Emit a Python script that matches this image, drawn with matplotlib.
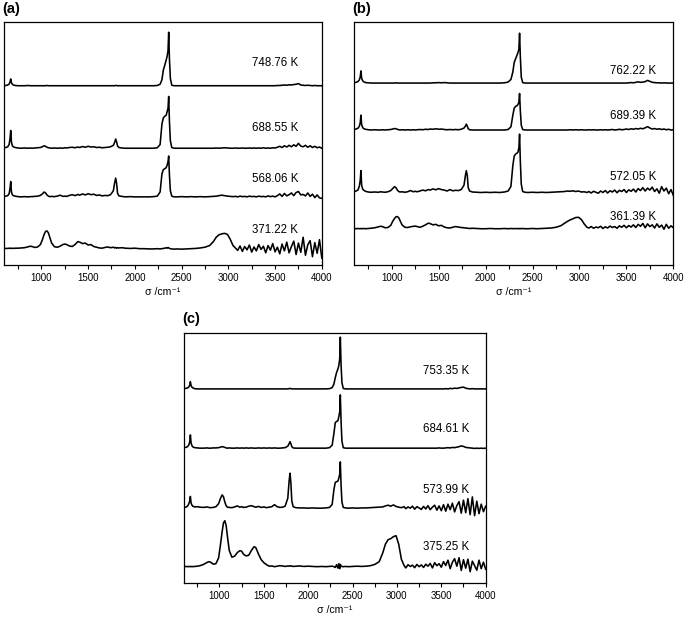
import numpy as np
import matplotlib
matplotlib.use('Agg')
import matplotlib.pyplot as plt
from matplotlib.ticker import MultipleLocator

plt.rcParams['font.family'] = ['Liberation Sans', 'DejaVu Sans']

# wavenumber grid (cm^-1), denser around the bands
sigma = [600, 620, 640, 655, 665, 672, 680, 690, 700, 720,
         750, 780, 820, 860, 880, 900, 930, 960, 990, 1010,
         1030, 1045, 1060, 1075, 1090, 1110, 1140, 1170, 1200, 1230,
         1250, 1270, 1300, 1330, 1360, 1390, 1410, 1440, 1470, 1500,
         1530, 1560, 1590, 1620, 1650, 1680, 1710, 1740, 1770, 1785,
         1795, 1805, 1815, 1830, 1860, 1900, 1950, 2000, 2050, 2100,
         2150, 2200, 2240, 2270, 2290, 2305, 2320, 2335, 2345, 2355,
         2362, 2370, 2380, 2395, 2420, 2450, 2500, 2550, 2600, 2650,
         2700, 2750, 2800, 2840, 2870, 2900, 2930, 2960, 2990, 3020,
         3050, 3080, 3100, 3125, 3150, 3175, 3200, 3225, 3250, 3275,
         3300, 3325, 3350, 3375, 3400, 3425, 3450, 3475, 3500, 3525,
         3550, 3575, 3600, 3625, 3650, 3675, 3700, 3725, 3750, 3775,
         3800, 3825, 3850, 3875, 3900, 3925, 3950, 3975, 4000]

# ---- panel (a): intensity above each trace's own baseline ----
a_748 = [0.0, 0.1, 0.3, 0.7, 1.5, 2.8, 1.2, 0.6, 0.3, 0.1,
         0.0, 0.0, 0.0, 0.1, 0.0, 0.0, 0.0, 0.0, 0.0, 0.0,
         0.0, 0.0, 0.1, 0.0, 0.0, 0.0, 0.0, 0.0, 0.0, 0.0,
         0.0, 0.0, 0.0, 0.0, 0.0, 0.0, 0.0, 0.0, 0.0, 0.0,
         0.0, 0.0, 0.0, 0.0, 0.0, 0.0, 0.0, 0.0, 0.0, 0.0,
         0.1, 0.1, 0.0, 0.0, 0.0, 0.0, 0.0, 0.0, 0.0, 0.0,
         0.0, 0.0, 0.1, 0.6, 2.5, 6.5, 8.4, 10.5, 12.0, 14.5,
         22.0, 11.0, 3.0, 0.2, 0.0, 0.0, 0.0, 0.0, 0.0, 0.0,
         0.0, 0.0, 0.0, 0.0, 0.0, 0.0, 0.0, 0.0, 0.0, 0.0,
         0.0, 0.0, 0.0, 0.0, 0.0, 0.0, 0.0, 0.0, 0.0, 0.0,
         0.0, 0.0, 0.0, 0.0, 0.0, 0.0, 0.0, 0.0, 0.0, 0.1,
         0.1, 0.2, 0.3, 0.2, 0.4, 0.3, 0.5, 0.6, 0.9, 0.3,
         0.2, 0.1, 0.2, 0.1, 0.0, 0.1, 0.0, 0.0, 0.0]
a_688 = [0.2, 0.3, 0.6, 1.5, 4.0, 7.3, 2.5, 1.0, 0.6, 0.3,
         0.1, 0.0, 0.1, 0.0, 0.1, 0.0, 0.1, 0.2, 0.3, 0.6,
         1.0, 0.8, 0.4, 0.2, 0.1, 0.0, 0.1, 0.0, 0.1, 0.0,
         0.2, 0.1, 0.3, 0.4, 0.2, 0.5, 0.3, 0.7, 0.4, 0.8,
         0.5, 0.6, 0.3, 0.4, 0.2, 0.3, 0.4, 0.6, 1.2, 2.5,
         3.8, 2.6, 0.9, 0.3, 0.1, 0.0, 0.0, 0.0, 0.0, 0.0,
         0.0, 0.0, 0.2, 1.5, 10.0, 12.5, 13.2, 13.5, 15.0, 16.5,
         21.3, 11.0, 3.0, 0.3, 0.0, 0.0, 0.0, 0.0, 0.0, 0.0,
         0.0, 0.0, 0.0, 0.0, 0.1, 0.0, 0.1, 0.2, 0.1, 0.0,
         0.0, 0.1, 0.0, 0.0, 0.1, 0.0, 0.0, 0.1, 0.0, 0.1,
         0.0, 0.1, 0.0, 0.2, 0.0, 0.1, 0.0, 0.2, 0.1, 0.4,
         0.8, 0.3, 1.0, 0.5, 1.2, 0.6, 1.4, 0.8, 2.0, 0.9,
         0.6, 1.2, 0.4, 1.0, 0.3, 0.8, 0.2, 0.5, 0.0]
a_568 = [0.2, 0.3, 0.5, 1.3, 3.5, 6.3, 2.0, 0.9, 0.5, 0.3,
         0.1, 0.0, 0.1, 0.0, 0.1, 0.1, 0.2, 0.3, 0.6, 1.2,
         2.0, 1.6, 0.8, 0.3, 0.1, 0.2, 0.1, 0.3, 0.7, 0.2,
         0.3, 0.2, 0.6, 0.9, 0.5, 1.0, 0.7, 1.2, 0.8, 1.3,
         0.9, 1.1, 0.6, 0.8, 0.4, 0.6, 0.5, 0.9, 2.5, 6.0,
         7.7, 5.5, 1.5, 0.4, 0.2, 0.0, 0.1, 0.0, 0.0, 0.0,
         0.0, 0.1, 0.3, 2.0, 9.5, 11.2, 11.6, 12.0, 13.0, 14.5,
         16.8, 9.0, 2.5, 0.3, 0.0, 0.0, 0.1, 0.0, 0.1, 0.0,
         0.1, 0.0, 0.1, 0.2, 0.3, 0.5, 0.7, 0.5, 0.3, 0.2,
         0.1, 0.2, 0.0, 0.3, 0.1, 0.2, 0.0, 0.3, 0.1, 0.2,
         0.0, 0.3, 0.1, 0.2, 0.0, 0.4, 0.1, 0.3, 0.0, 0.5,
         1.2, 0.2, 1.4, 0.4, 0.9, 1.6, 0.5, 1.8, 2.2, 0.8,
         1.0, 0.4, 1.6, 0.2, 1.1, -0.3, 0.8, -0.4, -0.6]
a_371 = [0.1, 0.0, 0.0, 0.1, 0.0, 0.1, 0.0, 0.1, 0.0, 0.1,
         0.1, 0.2, 0.3, 0.7, 0.9, 0.8, 0.4, 0.6, 1.6, 3.5,
         5.8, 7.0, 7.2, 6.4, 4.6, 2.2, 0.7, 0.5, 0.9, 1.6,
         1.8, 1.6, 1.0, 0.8, 1.6, 2.8, 2.6, 2.0, 2.2, 1.4,
         1.6, 0.8, 0.5, 0.2, 0.1, 0.4, 0.6, 0.3, 0.5, 0.2,
         0.4, 0.1, 0.3, 0.2, 0.3, 0.1, 0.0, 0.1, -0.1, -0.1,
         -0.2, -0.2, -0.1, -0.2, -0.1, 0.0, 0.1, 0.3, 0.1, 0.4,
         0.2, 0.0, -0.1, -0.2, -0.3, -0.2, -0.3, -0.2, -0.1, 0.0,
         0.2, 0.5, 1.2, 2.8, 4.6, 5.6, 6.0, 6.2, 5.8, 3.8,
         1.2, 0.0, -0.8, 1.0, -1.2, 0.8, -0.6, 1.4, -1.5, 0.6,
         -1.0, 1.6, -0.4, 0.9, -1.8, 1.2, -0.7, 2.0, -1.4, 0.5,
         -2.2, 1.8, -1.0, 2.6, -1.8, 0.8, 3.0, -2.5, 2.2, -1.6,
         4.6, -2.8, 1.5, 3.2, -3.4, 2.4, -2.0, 3.6, -4.0]

# ---- panel (b) ----
b_762 = [0.1, 0.3, 0.6, 1.3, 2.5, 5.0, 2.0, 1.0, 0.6, 0.2,
         0.1, 0.0, 0.0, 0.0, 0.0, 0.0, 0.0, 0.0, 0.0, 0.0,
         0.0, 0.1, 0.0, 0.0, 0.0, 0.0, 0.0, 0.0, 0.0, 0.0,
         0.0, 0.0, 0.0, 0.0, 0.0, 0.0, 0.0, 0.1, 0.1, 0.2,
         0.1, 0.2, 0.1, 0.0, 0.0, 0.0, 0.0, 0.0, 0.0, 0.0,
         0.0, 0.0, 0.0, 0.0, 0.0, 0.0, 0.0, 0.0, 0.0, 0.0,
         0.0, 0.1, 0.4, 1.5, 4.5, 8.5, 10.0, 11.5, 12.5, 14.0,
         20.5, 11.0, 2.5, 0.2, 0.0, 0.0, 0.0, 0.0, 0.0, 0.0,
         0.0, 0.0, 0.0, 0.0, 0.0, 0.0, 0.0, 0.0, 0.0, 0.0,
         0.0, 0.0, 0.0, 0.0, 0.0, 0.0, 0.0, 0.0, 0.0, 0.0,
         0.0, 0.0, 0.0, 0.0, 0.0, 0.0, 0.0, 0.0, 0.0, 0.1,
         0.2, 0.1, 0.3, 0.5, 0.3, 0.4, 0.6, 1.1, 0.7, 0.3,
         0.2, 0.1, 0.1, 0.0, 0.1, 0.0, 0.0, 0.0, 0.0]
b_689 = [0.2, 0.4, 0.7, 1.5, 3.0, 6.1, 2.2, 1.1, 0.6, 0.3,
         0.1, 0.0, 0.1, 0.0, 0.0, 0.1, 0.0, 0.1, 0.2, 0.4,
         0.6, 0.5, 0.3, 0.1, 0.0, 0.1, 0.0, 0.1, 0.0, 0.1,
         0.0, 0.1, 0.2, 0.1, 0.3, 0.2, 0.4, 0.3, 0.5, 0.3,
         0.4, 0.2, 0.1, 0.2, 0.1, 0.2, 0.1, 0.3, 0.8, 1.6,
         2.4, 1.6, 0.5, 0.1, 0.0, 0.0, 0.0, 0.0, 0.0, 0.0,
         0.0, 0.0, 0.2, 1.3, 6.0, 9.0, 9.7, 10.0, 10.5, 11.5,
         15.0, 8.0, 2.0, 0.2, 0.0, 0.0, 0.0, 0.0, 0.0, 0.0,
         0.0, 0.0, 0.0, 0.0, 0.0, 0.1, 0.0, 0.1, 0.0, 0.1,
         0.0, 0.0, 0.1, 0.0, 0.1, 0.0, 0.0, 0.1, 0.0, 0.1,
         0.0, 0.1, 0.2, 0.0, 0.1, 0.3, 0.1, 0.2, 0.4, 0.2,
         0.5, 0.3, 0.6, 0.4, 0.7, 0.5, 0.9, 1.4, 0.8, 0.4,
         0.6, 0.3, 0.5, 0.2, 0.4, 0.1, 0.3, 0.0, 0.1]
b_572 = [0.3, 0.6, 1.0, 2.5, 5.0, 9.0, 3.0, 1.5, 1.0, 0.5,
         0.2, 0.1, 0.2, 0.1, 0.3, 0.2, 0.1, 0.3, 0.8, 1.6,
         2.4, 2.0, 1.0, 0.4, 0.2, 0.3, 0.1, 0.3, 0.8, 0.3,
         0.5, 0.3, 0.6, 1.0, 0.7, 1.2, 1.0, 1.5, 1.1, 1.6,
         1.2, 1.0, 0.6, 1.2, 0.7, 0.9, 0.8, 1.2, 3.0, 7.0,
         9.0, 7.0, 2.0, 0.6, 0.2, 0.1, 0.0, 0.1, 0.0, 0.1,
         0.0, 0.2, 0.6, 2.5, 11.0, 15.0, 15.8, 16.2, 16.6, 18.5,
         24.0, 13.0, 3.5, 0.4, 0.1, 0.0, 0.1, 0.0, 0.1, 0.0,
         0.1, 0.2, 0.3, 0.4, 0.6, 0.5, 0.7, 0.4, 0.6, 0.2,
         0.3, 0.0, 0.4, -0.2, 0.5, 0.1, -0.3, 0.6, 0.0, 0.8,
         -0.2, 0.7, 0.2, 1.0, -0.1, 0.9, 0.4, 1.2, 0.0, 1.1,
         0.5, 1.4, 0.2, 1.6, 0.8, 2.0, 0.6, 1.8, 1.0, 2.2,
         0.4, 1.5, -0.3, 2.4, 0.6, 1.8, -0.5, 1.2, -1.2]
b_361 = [0.1, 0.0, 0.1, 0.0, 0.1, 0.0, 0.1, 0.0, 0.1, 0.0,
         0.1, 0.2, 0.4, 0.8, 1.0, 0.9, 0.4, 0.5, 1.4, 3.0,
         4.2, 4.9, 5.0, 4.5, 3.3, 1.6, 0.6, 0.5, 0.8, 1.0,
         1.1, 0.9, 0.6, 1.0, 1.6, 2.3, 2.1, 1.6, 1.8, 1.2,
         1.4, 0.7, 0.4, 0.3, 0.6, 0.9, 0.7, 0.5, 0.4, 0.3,
         0.3, 0.2, 0.2, 0.1, 0.2, 0.1, 0.0, 0.0, 0.1, 0.0,
         0.0, 0.1, 0.0, 0.1, 0.0, 0.1, 0.0, 0.1, 0.0, 0.1,
         0.0, 0.1, 0.0, 0.1, 0.0, 0.0, 0.1, 0.0, 0.1, 0.2,
         0.3, 0.6, 1.2, 2.2, 3.0, 3.6, 4.1, 4.6, 4.7, 3.8,
         2.0, 0.6, 0.3, 0.9, 0.2, 0.7, 0.4, 1.0, 0.1, 0.8,
         0.3, 1.1, 0.5, 0.9, 0.2, 1.2, 0.6, 1.4, 0.4, 1.3,
         0.7, 1.6, 0.5, 1.8, 1.0, 2.2, 0.4, 2.0, 0.9, 1.6,
         0.3, 2.0, 0.6, 1.5, -0.2, 1.8, 0.2, 1.2, 0.4]

# ---- panel (c) ----
c_753 = [0.1, 0.2, 0.4, 0.8, 1.6, 2.9, 1.3, 0.7, 0.4, 0.1,
         0.0, 0.0, 0.0, 0.0, 0.0, 0.0, 0.0, 0.0, 0.0, 0.0,
         0.0, 0.0, 0.0, 0.0, 0.0, 0.0, 0.0, 0.0, 0.0, 0.0,
         0.0, 0.0, 0.0, 0.0, 0.0, 0.0, 0.0, 0.0, 0.0, 0.0,
         0.0, 0.0, 0.0, 0.0, 0.0, 0.0, 0.0, 0.0, 0.0, 0.1,
         0.2, 0.1, 0.0, 0.0, 0.0, 0.0, 0.0, 0.0, 0.0, 0.0,
         0.0, 0.0, 0.1, 0.5, 2.0, 4.5, 6.6, 8.0, 9.3, 12.0,
         20.7, 10.0, 2.5, 0.2, 0.0, 0.0, 0.0, 0.0, 0.0, 0.0,
         0.0, 0.0, 0.0, 0.0, 0.0, 0.0, 0.0, 0.0, 0.0, 0.0,
         0.0, 0.0, 0.0, 0.0, 0.0, 0.0, 0.0, 0.0, 0.0, 0.0,
         0.0, 0.0, 0.0, 0.0, 0.0, 0.0, 0.0, 0.0, 0.0, 0.0,
         0.1, 0.0, 0.2, 0.1, 0.3, 0.2, 0.4, 0.6, 0.7, 0.3,
         0.1, 0.0, 0.1, 0.0, 0.0, 0.0, 0.0, 0.0, 0.0]
c_684 = [0.2, 0.3, 0.6, 1.3, 2.6, 5.3, 2.0, 1.0, 0.5, 0.2,
         0.1, 0.0, 0.0, 0.1, 0.0, 0.0, 0.1, 0.1, 0.2, 0.4,
         0.6, 0.5, 0.3, 0.1, 0.0, 0.1, 0.0, 0.0, 0.1, 0.0,
         0.1, 0.0, 0.1, 0.0, 0.1, 0.0, 0.0, 0.1, 0.0, 0.1,
         0.0, 0.1, 0.0, 0.1, 0.0, 0.0, 0.1, 0.2, 0.8, 1.8,
         2.6, 1.8, 0.6, 0.1, 0.0, 0.0, 0.0, 0.0, 0.0, 0.0,
         0.0, 0.0, 0.2, 1.2, 6.0, 10.2, 10.7, 11.0, 12.6, 14.5,
         21.3, 11.0, 2.8, 0.2, 0.0, 0.0, 0.0, 0.0, 0.0, 0.0,
         0.0, 0.0, 0.0, 0.0, 0.0, 0.0, 0.0, 0.0, 0.0, 0.0,
         0.0, 0.0, 0.0, 0.0, 0.0, 0.0, 0.0, 0.0, 0.0, 0.0,
         0.0, 0.0, 0.0, 0.0, 0.0, 0.0, 0.0, 0.1, 0.0, 0.0,
         0.1, 0.2, 0.1, 0.3, 0.2, 0.4, 0.6, 0.9, 0.7, 0.3,
         0.2, 0.1, 0.0, -0.1, 0.0, -0.1, 0.0, -0.1, 0.0]
c_573 = [0.2, 0.4, 0.8, 1.8, 3.0, 4.7, 2.0, 1.2, 0.8, 0.5,
         0.6, 0.4, 0.3, 0.5, 0.3, 0.2, 0.3, 0.6, 1.8, 3.8,
         5.3, 4.6, 2.5, 1.0, 0.4, 0.3, 0.2, 0.5, 0.9, 0.4,
         0.6, 0.3, 0.4, 0.8, 1.0, 0.6, 0.4, 0.7, 0.3, 0.5,
         0.2, 0.4, 0.6, 1.4, 0.6, 0.3, 0.4, 0.8, 4.0, 11.0,
         14.0, 10.0, 3.0, 0.6, 0.2, 0.1, 0.1, 0.0, 0.1, 0.0,
         0.0, 0.1, 0.3, 1.5, 7.5, 10.3, 10.6, 10.8, 12.0, 13.5,
         18.5, 9.5, 2.5, 0.3, 0.1, 0.0, 0.1, 0.0, 0.1, 0.1,
         0.2, 0.3, 0.4, 0.5, 0.9, 1.2, 0.8, 1.3, 0.7, 0.4,
         0.2, 0.6, -0.2, 0.5, 0.0, 0.8, -0.4, 0.6, 0.1, -0.5,
         0.7, -0.3, 1.0, -0.6, 0.4, 1.2, -0.8, 0.9, -1.0, 1.4,
         -1.2, 1.6, -0.6, 2.0, -1.5, 1.0, 2.6, -2.0, 3.2, -1.8,
         3.8, -2.6, 4.5, -3.0, 2.8, -2.2, 1.6, -1.4, 0.8]
c_375 = [0.0, 0.1, 0.0, 0.1, 0.0, 0.1, 0.0, 0.1, 0.0, 0.1,
         0.2, 0.4, 0.9, 1.7, 2.0, 1.8, 1.0, 1.2, 3.5, 8.5,
         14.0, 17.5, 18.4, 16.5, 12.0, 6.5, 3.8, 4.2, 5.6, 6.4,
         6.2, 5.0, 4.3, 4.6, 6.5, 8.0, 7.6, 5.0, 2.8, 1.6,
         0.8, 0.2, 0.3, 0.0, 0.2, 0.4, 0.3, 0.1, 0.3, 0.2,
         0.4, 0.2, 0.3, 0.1, 0.2, 0.3, 0.1, 0.2, 0.1, 0.0,
         0.1, 0.0, 0.1, 0.2, 0.0, -0.3, 0.8, -0.6, 1.2, -0.8,
         0.9, 0.2, 0.1, 0.0, 0.1, 0.0, 0.1, 0.2, 0.1, 0.2,
         0.4, 0.9, 2.0, 5.5, 9.0, 10.8, 11.2, 12.0, 12.4, 9.0,
         3.0, 0.5, -0.5, 0.8, 0.1, 0.6, -0.4, 0.9, 0.0, 0.7,
         -0.3, 1.0, 0.2, 1.3, -0.5, 1.6, 0.4, 1.2, -0.2, 2.0,
         0.5, 2.6, -0.8, 1.8, 3.2, 0.2, 3.6, -1.5, 2.8, -0.6,
         3.0, -2.0, 2.2, 0.4, -1.4, 2.6, -0.8, 1.8, -1.0]

temps_a = ['748.76 K', '688.55 K', '568.06 K', '371.22 K']
temps_b = ['762.22 K', '689.39 K', '572.05 K', '361.39 K']
temps_c = ['753.35 K', '684.61 K', '573.99 K', '375.25 K']

# baseline of each trace in the 0-100 panel height
base_a = [73.7, 48.0, 28.0, 6.8]
base_b = [74.8, 55.5, 29.8, 14.9]
base_c = [77.5, 53.8, 29.8, 6.4]


def draw_panel(ax, traces, bases, temps, label_y, label_x, tag):
    for vals, b in zip(traces, bases):
        ax.plot(sigma, b + np.array(vals), color='black', lw=1.15)
    for t, y in zip(temps, label_y):
        ax.text(label_x, y, t, ha='center', va='center', fontsize=8.3)
    ax.set_xlim(600, 4000)
    ax.set_ylim(0, 100)
    ax.set_yticks([])
    ax.xaxis.set_major_locator(MultipleLocator(500))
    ax.xaxis.set_minor_locator(MultipleLocator(250))
    ax.tick_params(axis='x', which='both', direction='out', length=3,
                   width=0.8, labelsize=7, pad=3)
    ax.set_xlabel('σ /cm⁻¹', fontsize=7.6, labelpad=3)
    for s in ax.spines.values():
        s.set_linewidth(0.9)
    ax.text(-0.005, 1.025, tag, transform=ax.transAxes, ha='left',
            va='bottom', fontsize=10.5, fontweight='bold')


fig = plt.figure(figsize=(6.85, 6.22), dpi=100)
ax_a = fig.add_axes([0.0058, 0.574, 0.464, 0.391])
ax_b = fig.add_axes([0.517, 0.574, 0.466, 0.391])
ax_c = fig.add_axes([0.2686, 0.0632, 0.4404, 0.402])

draw_panel(ax_a, [a_748, a_688, a_568, a_371], base_a, temps_a,
           [83.2, 56.3, 35.4, 14.4], 3500, '(a)')
draw_panel(ax_b, [b_762, b_689, b_572, b_361], base_b, temps_b,
           [79.8, 61.3, 36.2, 19.6], 3570, '(b)')
draw_panel(ax_c, [c_753, c_684, c_573, c_375], base_c, temps_c,
           [84.8, 61.4, 37.1, 14.2], 3550, '(c)')

fig.savefig('out.png', dpi=100)
